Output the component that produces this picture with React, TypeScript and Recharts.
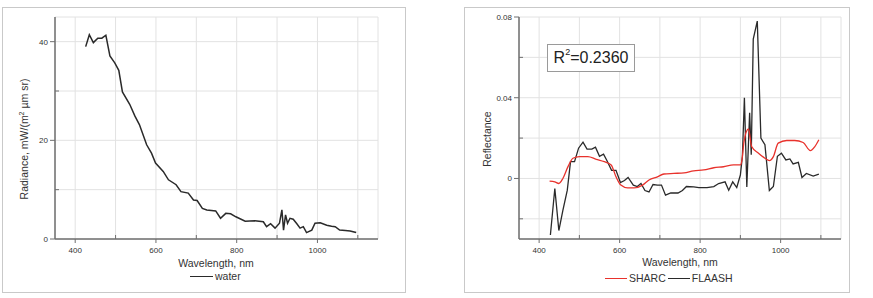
import React from 'react';
import { LineChart, Line, XAxis, YAxis, CartesianGrid, Legend } from 'recharts';

const waterWavelength = [426,435,445,456,466,476,486,498,508,517,535,548,559,577,589,599,618,631,650,662,680,693,702,715,726,748,760,773,785,798,821,845,866,874,884,895,906,912,916,921,926,932,940,949,957,965,973,986,994,1007,1023,1035,1044,1055,1069,1081,1096];
const waterRadiance = [39.0,41.4,39.8,40.7,40.7,41.3,37.1,35.7,34.2,29.8,27.3,24.9,23.2,19.1,17.4,15.4,13.7,12.0,11.0,9.6,9.3,7.9,7.8,6.2,5.9,5.7,4.2,5.2,5.1,4.5,3.6,3.7,3.5,2.5,3.1,2.2,3.2,5.9,1.8,4.9,3.2,4.2,4.0,3.1,2.2,2.5,1.3,1.8,3.2,3.3,2.8,2.6,2.5,1.8,1.7,1.6,1.3];

const flaashWavelength = [428,439,449,459,470,478,488,498,509,519,531,540,550,560,568,580,591,602,612,621,634,644,653,663,673,683,694,704,714,727,745,756,766,784,797,817,834,846,862,871,881,891,900,905,910,916,923,927,932,942,951,961,972,982,992,1002,1013,1023,1031,1044,1053,1064,1081,1095];
const flaashReflectance = [-0.028,-0.005,-0.0258,-0.0158,-0.0058,0.0083,0.0083,0.015,0.018,0.0145,0.0145,0.0155,0.011,0.012,0.009,0.004,0.004,-0.002,-0.001,0.0005,-0.0033,-0.004,-0.0025,-0.006,-0.0067,-0.003,-0.0033,-0.0033,-0.0083,-0.0072,-0.0072,-0.006,-0.004,-0.0042,-0.0045,-0.0045,-0.004,-0.0025,-0.0017,-0.0058,-0.0017,-0.0045,0.0017,0.011,0.04,-0.0042,0.0325,0.0117,0.069,0.078,0.02,0.0167,-0.006,-0.004,0.011,0.0125,0.0092,0.0097,0.0072,0.008,0.0005,0.0025,0.0012,0.0022];

const sharcWavelength = [426,439,449,459,472,484,500,521,542,562,579,591,603,620,636,657,673,694,710,735,760,784,809,834,858,883,900,904,909,920,928,945,961,972,982,994,1015,1035,1056,1074,1085,1095];
const sharcReflectance = [-0.0013,-0.0017,-0.0025,0,0.006,0.01,0.0108,0.0108,0.0095,0.0083,0.0067,0.0008,-0.0033,-0.0047,-0.0047,-0.0033,-0.0008,0.0008,0.0022,0.0025,0.0028,0.0038,0.0042,0.0053,0.0058,0.0067,0.0067,0.0092,0.0183,0.0245,0.0158,0.0125,0.01,0.0088,0.0108,0.0175,0.0188,0.0188,0.0178,0.0138,0.0158,0.0192];

const xTicks = [400, 500, 600, 700, 800, 900, 1000, 1100];
const xLabelled = [400, 600, 800, 1000];
const radianceTicks = [0, 10, 20, 30, 40];
const radianceLabelled = [0, 20, 40];
const reflTicks = [-0.02, 0, 0.02, 0.04, 0.06, 0.08];
const reflLabelled = [0, 0.04, 0.08];
const rSquared = '0.2360';

const waterData = waterWavelength.map((wl, i) => ({ wl, v: waterRadiance[i] }));
const flaashData = flaashWavelength.map((wl, i) => ({ wl, v: flaashReflectance[i] }));
const sharcData = sharcWavelength.map((wl, i) => ({ wl, v: sharcReflectance[i] }));

const FONT = '"Liberation Sans", Arial, sans-serif';
const TXT = '#333';
const AXIS = '#6f6f6f';
const GRID = '#e2e2e2';

const isIn = (arr: number[], v: number) => arr.some((a) => Math.abs(a - v) < 1e-9);

const XTick = (props: any) => {
  const { x, y, payload } = props;
  const major = isIn(xLabelled, payload.value);
  return (
    <g>
      <line x1={x} y1={y} x2={x} y2={major ? y + 4 : y - 4} stroke={AXIS} strokeWidth={1} />
      {major && (
        <text x={x} y={y + 14} textAnchor="middle" fontSize={8} fill={TXT} fontFamily={FONT}>
          {payload.value}
        </text>
      )}
    </g>
  );
};

const makeYTick = (labelled: number[]) => (props: any) => {
  const { x, y, payload } = props;
  const major = isIn(labelled, payload.value);
  return (
    <g>
      <line x1={major ? x - 5 : x} y1={y} x2={major ? x : x + 4} y2={y} stroke={AXIS} strokeWidth={1} />
      {major && (
        <text x={x - 7} y={y + 3} textAnchor="end" fontSize={8} fill={TXT} fontFamily={FONT}>
          {String(payload.value)}
        </text>
      )}
    </g>
  );
};

const LegendContent = (items: { label: string; color: string; len: number }[]) => () => (
  <div style={{ display: 'flex', alignItems: 'center', fontFamily: FONT, fontSize: 10.5, color: TXT, whiteSpace: 'nowrap' }}>
    {items.map((it) => (
      <div key={it.label} style={{ display: 'flex', alignItems: 'center' }}>
        <div style={{ width: it.len, height: 0, borderTop: `1.5px solid ${it.color}`, marginRight: 2 }} />
        <span style={{ marginRight: 2 }}>{it.label}</span>
      </div>
    ))}
  </div>
);

const frame: React.CSSProperties = {
  position: 'absolute',
  border: '1.5px solid #c9c9c9',
  boxSizing: 'border-box',
};

export default function App() {
  return (
    <div style={{ position: 'absolute', left: 0, top: 0, width: 873, height: 298, background: '#fff', overflow: 'hidden' }}>
      <div style={{ ...frame, left: 2, top: 7, width: 404, height: 286 }} />
      <div style={{ ...frame, left: 464, top: 7, width: 386, height: 286 }} />

      <div style={{ position: 'absolute', left: 0, top: 0 }}>
        <LineChart width={440} height={298} margin={{ top: 17, right: 62, bottom: 29, left: 0 }}>
          <CartesianGrid stroke={GRID} strokeWidth={1} />
          <XAxis
            type="number"
            dataKey="wl"
            domain={[350, 1150]}
            ticks={xTicks}
            interval={0}
            height={30}
            tickSize={0}
            tickMargin={0}
            tickLine={false}
            tick={XTick}
            stroke={AXIS}
            strokeWidth={1.5}
            label={() => (
              <text x={216} y={267} textAnchor="middle" fontSize={10.5} fill={TXT} fontFamily={FONT}>
                Wavelength, nm
              </text>
            )}
          />
          <YAxis
            type="number"
            domain={[0, 45]}
            ticks={radianceTicks}
            interval={0}
            width={55}
            tickSize={0}
            tickMargin={0}
            tickLine={false}
            tick={makeYTick(radianceLabelled)}
            stroke={AXIS}
            strokeWidth={1.5}
            label={() => (
              <text transform="rotate(-90, 28, 139)" x={28} y={139} textAnchor="middle" fontSize={10.5} fill={TXT} fontFamily={FONT}>
                Radiance, mW/(m<tspan dy={-4} fontSize={7}>2</tspan><tspan dy={4}> µm sr)</tspan>
              </text>
            )}
          />
          <Legend
            layout="horizontal"
            verticalAlign="middle"
            align="center"
            wrapperStyle={{ top: 270, left: 190, width: 'auto', height: 'auto' }}
            content={LegendContent([{ label: 'water', color: '#2a2a2a', len: 23 }])}
          />
          <Line data={waterData} dataKey="v" stroke="#2a2a2a" strokeWidth={1.5} dot={false} isAnimationActive={false} type="linear" name="water" />
        </LineChart>
      </div>

      <div style={{ position: 'absolute', left: 440, top: 0 }}>
        <LineChart width={433} height={298} margin={{ top: 17, right: 32, bottom: 29, left: 0 }}>
          <CartesianGrid stroke={GRID} strokeWidth={1} />
          <XAxis
            type="number"
            dataKey="wl"
            domain={[350, 1150]}
            ticks={xTicks}
            interval={0}
            height={30}
            tickSize={0}
            tickMargin={0}
            tickLine={false}
            tick={XTick}
            stroke={AXIS}
            strokeWidth={1.5}
            label={() => (
              <text x={240} y={266} textAnchor="middle" fontSize={10.5} fill={TXT} fontFamily={FONT}>
                Wavelength, nm
              </text>
            )}
          />
          <YAxis
            type="number"
            domain={[-0.03, 0.08]}
            ticks={reflTicks}
            interval={0}
            width={79}
            tickSize={0}
            tickMargin={0}
            tickLine={false}
            tick={makeYTick(reflLabelled)}
            stroke={AXIS}
            strokeWidth={1.5}
            label={() => (
              <text transform="rotate(-90, 51, 139)" x={51} y={139} textAnchor="middle" fontSize={10.5} fill={TXT} fontFamily={FONT}>
                Reflectance
              </text>
            )}
          />
          <Legend
            layout="horizontal"
            verticalAlign="middle"
            align="center"
            wrapperStyle={{ top: 272, left: 165, width: 'auto', height: 'auto' }}
            content={LegendContent([
              { label: 'SHARC', color: '#e8322c', len: 22 },
              { label: 'FLAASH', color: '#2a2a2a', len: 22 },
            ])}
          />
          <Line data={flaashData} dataKey="v" stroke="#2a2a2a" strokeWidth={1.3} dot={false} isAnimationActive={false} type="linear" name="FLAASH" />
          <Line data={sharcData} dataKey="v" stroke="#e8322c" strokeWidth={1.3} dot={false} isAnimationActive={false} type="monotone" name="SHARC" />
        </LineChart>
      </div>

      <div
        style={{
          position: 'absolute',
          left: 547,
          top: 44,
          width: 88,
          height: 28,
          boxSizing: 'border-box',
          border: '1.5px solid #9a9a9a',
          background: '#fff',
          fontFamily: FONT,
          fontSize: 16,
          color: '#222',
          display: 'flex',
          alignItems: 'center',
          justifyContent: 'center',
        }}
      >
        <span>
          R<sup style={{ fontSize: 9, verticalAlign: 'top', position: 'relative', top: -2 }}>2</sup>={rSquared}
        </span>
      </div>
    </div>
  );
}
